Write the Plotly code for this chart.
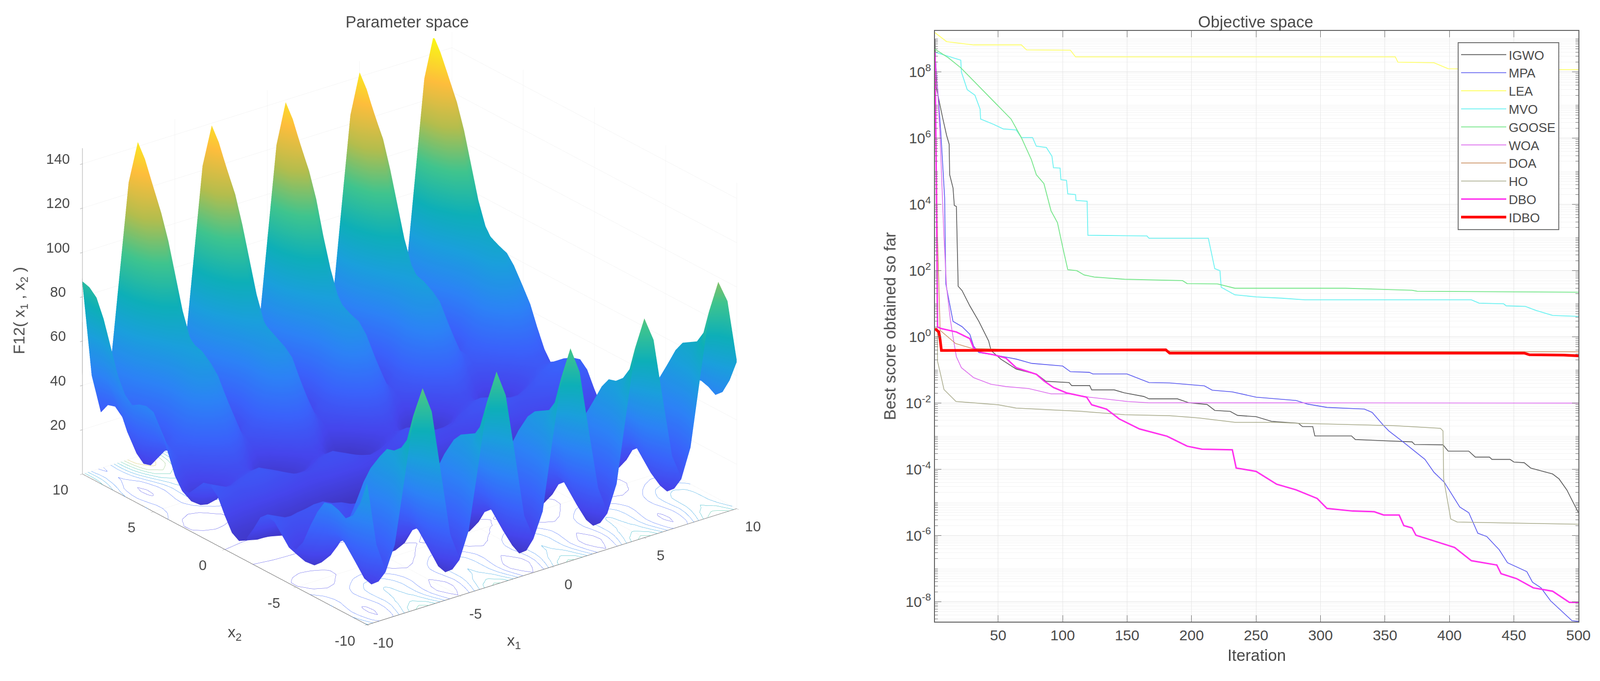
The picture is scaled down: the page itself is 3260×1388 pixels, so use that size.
import numpy as np
import plotly.graph_objects as go

# ---------- left panel: surface heights as whole-number estimates on a half-unit grid.
# Read from the visible surface; hidden parts are inferred from its repeating pattern.
x1_vals = [-10,-9.5,-9,-8.5,-8,-7.5,-7,-6.5,-6,-5.5,-5,-4.5,-4,-3.5,-3,-2.5,-2,-1.5,-1,-0.5,0,0.5,1,1.5,2,2.5,3,3.5,4,4.5,5,5.5,6,6.5,7,7.5,8,8.5,9,9.5,10]
x2_vals = list(x1_vals)
r00 = [8,7,6,6,5,4,4,3,2,2,2,1,1,1,0,0,0,0,0,0,0,0,0,1,1,1,2,2,2,3,4,4,5,6,6,7,8,9,10,11,12]
r05 = [10,9,9,8,7,7,6,5,5,4,4,4,3,3,3,3,3,2,2,2,3,3,3,3,3,4,4,4,5,5,6,7,7,8,9,9,10,11,12,13,14]
r10 = [16,15,14,14,13,13,12,12,11,10,10,9,9,9,9,9,9,8,8,8,9,9,9,9,9,9,10,10,11,12,12,13,13,14,14,15,16,18,19,20,20]
r15 = [23,21,20,19,20,20,19,18,17,16,15,15,16,16,16,16,15,14,14,14,15,16,16,16,16,15,15,16,17,18,19,20,20,19,20,21,23,24,26,26,27]
r20 = [26,24,22,22,23,24,24,22,21,19,18,18,19,20,20,20,18,17,16,17,18,20,20,20,19,18,18,19,21,22,24,24,23,22,22,24,26,28,30,30,30]
r25 = [25,22,20,20,22,23,24,22,20,17,16,16,18,20,21,19,17,15,14,15,17,19,21,20,18,16,16,17,20,22,24,23,22,20,20,22,25,28,30,30,29]
r30 = [21,17,15,16,18,20,21,19,16,12,10,11,14,17,18,16,13,10,9,10,13,16,18,17,14,11,10,12,16,19,21,20,18,16,15,17,21,25,27,27,25]
r35 = [17,12,10,11,14,18,19,17,12,7,5,6,10,14,16,14,10,5,4,5,10,14,16,14,10,6,5,7,12,17,19,18,14,11,10,12,17,23,25,25,21]
r40 = [17,11,8,9,14,19,21,18,12,6,3,5,10,16,18,15,10,4,2,4,10,15,18,16,10,5,3,6,12,18,21,19,14,9,8,11,17,24,27,26,21]
r45 = [22,14,11,13,19,25,28,24,17,9,6,8,15,22,25,22,14,7,4,7,14,22,25,22,15,8,6,9,17,24,28,25,19,13,11,14,22,30,34,32,26]
r50 = [31,21,17,19,27,35,38,34,25,16,12,15,23,32,35,31,23,14,10,14,23,31,35,32,23,15,12,16,25,34,38,35,27,19,17,21,31,40,45,42,34]
r55 = [39,28,23,26,36,46,50,45,34,23,18,22,32,42,46,42,31,21,16,21,31,42,46,42,32,22,18,23,34,45,50,46,36,26,23,28,39,51,56,53,43]
r60 = [45,31,26,30,42,54,58,52,39,26,21,26,38,50,55,50,37,24,19,24,37,50,55,50,38,26,21,26,39,52,58,54,42,30,26,31,45,58,64,60,49]
r65 = [46,31,24,29,43,57,63,56,41,26,19,25,39,54,59,53,38,24,18,24,38,53,59,54,39,25,19,26,41,56,63,57,43,29,24,31,46,62,69,64,50]
r70 = [45,27,19,25,42,58,64,57,39,22,14,21,38,54,61,54,37,20,13,20,37,54,61,54,38,21,14,22,39,57,64,58,42,25,19,27,45,63,71,65,49]
r75 = [43,23,14,21,40,59,67,58,38,18,9,17,36,56,63,55,36,16,8,16,36,55,63,56,36,17,9,18,38,58,67,59,40,21,14,23,43,64,73,66,47]
r80 = [46,23,13,21,42,64,73,63,40,17,8,17,39,61,69,60,38,15,6,15,38,60,69,61,39,17,8,17,40,63,73,64,42,21,13,23,46,69,79,71,50]
r85 = [53,27,16,25,50,74,84,73,47,22,11,21,46,71,81,70,45,20,9,20,45,70,81,71,46,21,11,22,47,73,84,74,50,25,16,27,53,79,90,81,57]
r90 = [64,35,22,33,60,88,99,87,58,29,17,29,56,84,96,84,56,27,16,27,56,84,96,84,56,29,17,29,58,87,99,88,60,33,22,35,64,93,105,95,67]
r95 = [75,42,29,41,71,102,114,101,69,37,24,36,67,99,111,98,67,35,22,35,67,98,111,99,67,36,24,37,69,101,114,102,71,41,29,42,75,107,121,109,78]
r100 = [83,47,32,45,79,114,127,112,77,42,27,41,76,110,124,110,75,40,26,40,75,110,124,110,76,41,27,42,77,112,127,114,79,45,32,47,83,118,134,120,87]
r105 = [86,47,31,46,83,121,136,120,81,42,26,41,79,117,133,117,78,40,24,40,78,117,133,117,79,41,26,42,81,120,136,121,83,46,31,47,86,125,142,127,90]
r110 = [87,44,26,43,84,125,142,124,82,39,21,38,80,122,139,121,79,37,20,37,79,121,139,122,80,38,21,39,82,124,142,125,84,43,26,44,87,130,148,132,91]
F12_z = [r90,r85,r80,r75,r70,r65,r60,r55,r50,r45,r40,r35,r30,r25,r20,r15,r10,r05,r00,
         r05,r10,r15,r20,r25,r30,r35,r40,r45,r50,r55,r60,r65,r70,r75,r80,r85,r90,r95,r100,r105,r110]
parula = [[0,'#3d2fb0'],[0.1,'#4545ec'],[0.2,'#3a62fb'],[0.3,'#2c82f6'],[0.42,'#1a9fdc'],[0.52,'#0dafb8'],
          [0.64,'#3fc48e'],[0.76,'#b4bd4d'],[0.88,'#fdbd3c'],[1,'#f9fb14']]

# ---------- right panel: convergence curves (iteration, log10 of best score)
IGWO_it = [1,2,7,10,12,12.4,15,16,17.6,18.2,19,22,28,35,42.6,44.5,52,64,80,87,105,107,121,122.5,140,148,163,167,189,198,212,218,230,235.6,250,262,283,286,294,295.6,324,327,356,371,373,395,399,415,420,431,433,447,450,458,463,480,485,491,500]
IGWO_lg = [9.0,7.54,6.61,6.09,5.82,4.9,4.5,3.97,3.94,2.92,1.53,1.4,0.94,0.47,-0.12,-0.41,-0.67,-0.97,-1.13,-1.34,-1.38,-1.47,-1.47,-1.6,-1.6,-1.69,-1.8,-1.87,-1.87,-1.99,-2.04,-2.22,-2.25,-2.37,-2.41,-2.55,-2.61,-2.71,-2.71,-2.99,-2.99,-3.1,-3.15,-3.17,-3.25,-3.26,-3.45,-3.45,-3.63,-3.63,-3.7,-3.7,-3.78,-3.8,-3.96,-4.14,-4.29,-4.62,-5.31]
MPA_it = [1,3,5.5,8.5,9.4,15,22,28,31,35,46.5,64,76,100,106,120.6,123.5,150,167,183,210,216,231.6,250,264,281,290,305,334,340,349,353,364,381,388,396,408,415,422,429,438.6,445,460,464.4,471,478.4,495,500]
MPA_lg = [8.6,7.54,6.2,4.2,1.6,0.47,0.31,0.08,-0.28,-0.47,-0.54,-0.67,-0.8,-0.88,-1.05,-1.07,-1.12,-1.12,-1.38,-1.39,-1.48,-1.61,-1.66,-1.82,-1.87,-1.92,-2.03,-2.13,-2.18,-2.28,-2.68,-2.84,-3.17,-3.7,-4.09,-4.39,-5.14,-5.31,-5.93,-6.03,-6.43,-6.82,-7.09,-7.41,-7.58,-7.97,-8.57,-8.59]
LEA_it = [1,10,31,68,72,106,110,358,360,388,399,500]
LEA_lg = [9.19,8.92,8.82,8.82,8.67,8.66,8.46,8.46,8.3,8.28,8.1,8.07]
MVO_it = [1,21,21.5,26,32,36,36.4,46.5,54,64,68,76.7,79.6,87.4,91.7,92.9,98,98.7,103,104,110,110.4,119,119.6,165.4,167,213,215,218,222,223,233.6,250,270,288,417,423,442,444,459,467,480,500]
MVO_lg = [8.6,8.36,8.0,7.47,7.3,6.88,6.58,6.42,6.28,6.25,6.02,6.02,5.76,5.72,5.46,5.11,5.1,4.75,4.73,4.32,4.3,4.12,4.1,3.07,3.05,2.98,2.98,2.59,2.06,2.0,1.5,1.27,1.21,1.17,1.12,1.12,1.02,1.0,0.94,0.92,0.8,0.65,0.62]
GOOSE_it = [1,11.4,21,35,46.5,60,68,75.7,79.6,85.5,91,96,100,104,111,116.7,124.5,148,193,196.6,220,233.6,319.5,371,375,500]
GOOSE_lg = [8.69,8.43,8.13,7.57,7.11,6.58,6.02,5.36,4.9,4.63,3.81,3.45,2.72,2.03,2.0,1.87,1.81,1.74,1.7,1.61,1.6,1.47,1.47,1.41,1.38,1.35]
WOA_it = [1,3,5,8,10,13,15,17.6,21.5,31,44.5,56,73.8,91,105,120.6,150,167,500]
WOA_lg = [8.6,7.5,6.0,3.0,1.5,0.5,0.0,-0.6,-0.93,-1.23,-1.43,-1.5,-1.56,-1.72,-1.72,-1.82,-1.95,-1.99,-2.0]
DOA_it = [1,3,5,17,30,100,500]
DOA_lg = [8.5,3.0,0.2,-0.2,-0.35,-0.42,-0.45]
HO_it = [1,2,2.5,3,5,8,17.3,31,50,64,115,148,183,206,233.6,264,282.7,356.5,393,395,395.5,401,406,500]
HO_lg = [8.5,4.0,0.5,-0.74,-1.07,-1.59,-1.95,-1.99,-2.05,-2.15,-2.25,-2.35,-2.38,-2.45,-2.58,-2.58,-2.61,-2.68,-2.76,-2.84,-4.29,-5.5,-5.59,-5.66]
DBO_it = [1,2,3,6,17.6,28,31,37,46.5,56,64,79.6,85.5,93,103,118.6,122.5,134,144,159.6,181,196.6,208,231.6,234.6,250,266,281,297.4,305,325,341.7,349,361,364.6,371,374,388,404,417,436.7,440,452,465,480,493,500]
DBO_lg = [8.6,5.0,0.3,0.25,0.15,-0.05,-0.34,-0.47,-0.54,-0.64,-0.93,-1.13,-1.33,-1.53,-1.69,-1.82,-2.05,-2.18,-2.48,-2.78,-3.0,-3.3,-3.39,-3.41,-3.96,-4.06,-4.45,-4.62,-4.88,-5.18,-5.26,-5.28,-5.38,-5.38,-5.7,-5.77,-5.99,-6.16,-6.36,-6.76,-6.89,-7.15,-7.3,-7.58,-7.68,-8.02,-8.02]
IDBO_it = [1,4,5,6,180,183,458,462,488.6,500]
IDBO_lg = [0.25,0.15,-0.08,-0.41,-0.39,-0.49,-0.49,-0.54,-0.55,-0.57]

series_names = ['IGWO','MPA','LEA','MVO','GOOSE','WOA','DOA','HO','DBO','IDBO']
series_its = [IGWO_it,MPA_it,LEA_it,MVO_it,GOOSE_it,WOA_it,DOA_it,HO_it,DBO_it,IDBO_it]
series_lgs = [IGWO_lg,MPA_lg,LEA_lg,MVO_lg,GOOSE_lg,WOA_lg,DOA_lg,HO_lg,DBO_lg,IDBO_lg]
series_colors = ['#5a5a5a','#5a5af0','#ffff70','#70f2f2','#78e68c','#dd70ee','#c88a5a','#a9ab8c','#ff30ee','#ff0000']
series_widths = [1.6,1.6,1.8,1.8,1.8,1.6,1.4,1.5,3,5.5]

x_ticks = [50,100,150,200,250,300,350,400,450,500]
y_exps = [8,6,4,2,0,-2,-4,-6,-8]
axis3_ticks = [-10,-5,0,5,10]
z_ticks = [20,40,60,80,100,120,140]
FONT = 'Liberation Sans, Arial, sans-serif'
INK = '#4a4a4a'

fig = go.Figure()
fig.add_trace(go.Surface(x=x1_vals, y=x2_vals, z=F12_z, colorscale=parula, cmin=0, cmax=148,
    showscale=False, lighting=dict(ambient=1, diffuse=0, specular=0, roughness=1, fresnel=0),
    hoverinfo='skip', scene='scene'))
# the same sheet sits just under the main one: only its floor projection of contours is seen
fig.add_trace(go.Surface(x=x1_vals, y=x2_vals, z=(np.array(F12_z, dtype=float)-0.8).tolist(),
    colorscale=parula, cmin=0, cmax=148, showscale=False,
    lighting=dict(ambient=1, diffuse=0, specular=0, roughness=1, fresnel=0),
    contours=dict(z=dict(show=True, start=15, end=135, size=15, usecolormap=True, width=3,
                         project=dict(z=True), highlight=False)),
    hoverinfo='skip', scene='scene'))

for nm, it, lg, col, w in zip(series_names, series_its, series_lgs, series_colors, series_widths):
    fig.add_trace(go.Scatter(x=it, y=np.power(10.0, lg).tolist(), mode='lines', name=nm,
                             line=dict(color=col, width=w), xaxis='x', yaxis='y'))

ax3 = dict(showbackground=False, gridcolor='#ececec', gridwidth=1, zeroline=False, showspikes=False,
           showline=True, linecolor='#666666', linewidth=2, ticks='outside', ticklen=6, tickcolor='#666666',
           showticklabels=False, title_text='')

def note(x, y, z, text, dx, dy, size=29, angle=0):
    return dict(x=x, y=y, z=z, text=text, showarrow=False, xshift=dx, yshift=-dy, textangle=angle,
                font=dict(family=FONT, size=size, color=INK), xanchor='center', yanchor='middle')

scene_notes = []
for v in axis3_ticks:
    scene_notes.append(note(v, -10, 0, str(v), 33, 36))
    scene_notes.append(note(-10, v, 0, str(v), -45, 32))
for v in z_ticks:
    scene_notes.append(note(-10, 10, v, str(v), -50, -10))
scene_notes.append(note(0, -10, 0, 'x<sub>1</sub>', -78, 152, 32))
scene_notes.append(note(-10, 0, 0, 'x<sub>2</sub>', 20, 170, 32))
scene_notes.append(note(-10, 10, 80, 'F12( x<sub>1</sub> , x<sub>2</sub> )', -127, 28, 32, -90))

minor_vals = []
for d in range(-9, 10):
    for m in range(1, 10):
        if m == 1 and d % 2 == 0:
            continue
        minor_vals.append(m * 10.0 ** d)

R = 1.6
fig.update_layout(
    width=3260, height=1388, margin=dict(l=0, r=0, t=0, b=0, autoexpand=False),
    paper_bgcolor='white', plot_bgcolor='white',
    font=dict(family=FONT, color=INK),
    scene=dict(
        domain=dict(x=[0, 0.512], y=[0.035, 1]),
        aspectmode='manual', aspectratio=dict(x=1.42, y=1.42, z=1.086),
        camera=dict(projection=dict(type='orthographic'), up=dict(x=0, y=0, z=1),
                    center=dict(x=0, y=0, z=0), eye=dict(x=-0.557*R, y=-0.723*R, z=0.408*R)),
        xaxis=dict(ax3, range=[-10, 10], tickvals=axis3_ticks),
        yaxis=dict(ax3, range=[-10, 10], tickvals=axis3_ticks),
        zaxis=dict(ax3, range=[0, 147], tickvals=z_ticks),
        annotations=scene_notes,
    ),
    xaxis=dict(domain=[1905/3260, 3216/3260], range=[1, 500], tickvals=x_ticks, ticks='inside', ticklen=13,
               tickcolor='#666666', mirror='ticks', showline=True, linecolor='#666666', linewidth=2,
               showgrid=True, gridcolor='#e6e6e6', zeroline=False, anchor='y',
               tickfont=dict(size=30, color=INK), title=dict(text='Iteration', font=dict(size=33, color=INK), standoff=14)),
    yaxis=dict(domain=[1-1267/1388, 1-62.5/1388], type='log', range=[-8.6, 9.25],
               tickvals=[10.0**e for e in y_exps], ticktext=['10<sup>%d</sup>' % e for e in y_exps],
               ticks='inside', ticklen=13, tickcolor='#666666', mirror='ticks', showline=True,
               linecolor='#666666', linewidth=2, showgrid=True, gridcolor='#e2e2e2', zeroline=False, anchor='x',
               tickfont=dict(size=30, color=INK), title=dict(text='Best score obtained so far', font=dict(size=33, color=INK), standoff=10),
               minor=dict(tickvals=minor_vals, ticks='inside', ticklen=6, tickcolor='#777777',
                          showgrid=True, gridcolor='#f3f3f3')),
    legend=dict(x=2970/3260, y=1-86/1388, xanchor='left', yanchor='top', bgcolor='white',
                bordercolor='#777777', borderwidth=2, itemwidth=92, font=dict(size=26, color=INK),
                tracegroupgap=0),
    annotations=[
        dict(text='Parameter space', xref='paper', yref='paper', x=830/3260, y=1-44/1388, showarrow=False,
             font=dict(size=33, color=INK), xanchor='center', yanchor='middle'),
        dict(text='Objective space', xref='paper', yref='paper', x=2558/3260, y=1-44/1388, showarrow=False,
             font=dict(size=33, color=INK), xanchor='center', yanchor='middle'),
    ],
)
fig.write_html('out.html', config=dict(displayModeBar=False), post_script="document.body.style.margin='0';")
